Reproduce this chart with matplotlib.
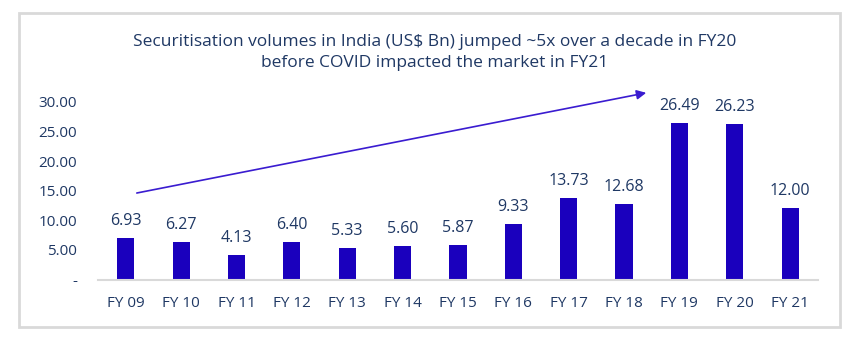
import matplotlib.pyplot as plt
from matplotlib.patches import Rectangle

years = ['FY 09', 'FY 10', 'FY 11', 'FY 12', 'FY 13', 'FY 14', 'FY 15',
         'FY 16', 'FY 17', 'FY 18', 'FY 19', 'FY 20', 'FY 21']
volumes = [6.93, 6.27, 4.13, 6.40, 5.33, 5.60, 5.87,
           9.33, 13.73, 12.68, 26.49, 26.23, 12.00]
yticks = [0, 5, 10, 15, 20, 25, 30]
ytick_labels = ['-', '5.00', '10.00', '15.00', '20.00', '25.00', '30.00']

navy = '#1F3864'
bar_color = '#1A00BD'
plt.rcParams['font.family'] = ['Open Sans', 'DejaVu Sans']

fig = plt.figure(figsize=(8.6, 3.46), dpi=100)
ax = fig.add_axes([0.114, 0.192, 0.837, 0.514])

# outer frame
fig.patches.append(Rectangle((19 / 860, 1 - 327 / 346), (840 - 19) / 860, (327 - 13) / 346,
                             transform=fig.transFigure, fill=False,
                             edgecolor='#D9D9D9', lw=2))

x = range(len(years))
ax.bar(x, volumes, width=0.31, color=bar_color)
for i, v in enumerate(volumes):
    ax.annotate(f'{v:.2f}', (i, v), xytext=(0, 6.5), textcoords='offset points',
                ha='center', va='bottom', color=navy, fontsize=11.5)

ax.set_xlim(-0.5, len(years) - 0.5)
ax.set_ylim(0, 30)
ax.set_xticks(list(x), labels=years)
ax.set_yticks(yticks, labels=ytick_labels)
ax.tick_params(axis='both', length=0, colors=navy, labelsize=11)
ax.tick_params(axis='x', pad=12)
ax.tick_params(axis='y', pad=15)
for s in ['top', 'right', 'left']:
    ax.spines[s].set_visible(False)
ax.spines['bottom'].set_color('#D9D9D9')
ax.spines['bottom'].set_linewidth(1.5)

# trend arrow
ax.annotate('', xy=(9.40, 31.5), xytext=(0.2, 14.6), annotation_clip=False,
            arrowprops=dict(arrowstyle='-|>', color='#3A1CD0', lw=1.2,
                            mutation_scale=14, shrinkA=0, shrinkB=0))

fig.text(0.505, 1 - 42 / 346, 'Securitisation volumes in India (US$ Bn) jumped ~5x over a decade in FY20',
         ha='center', va='center', color=navy, fontsize=12.5)
fig.text(0.505, 1 - 63 / 346, 'before COVID impacted the market in FY21',
         ha='center', va='center', color=navy, fontsize=12.5)

fig.savefig('out.png', dpi=100)
